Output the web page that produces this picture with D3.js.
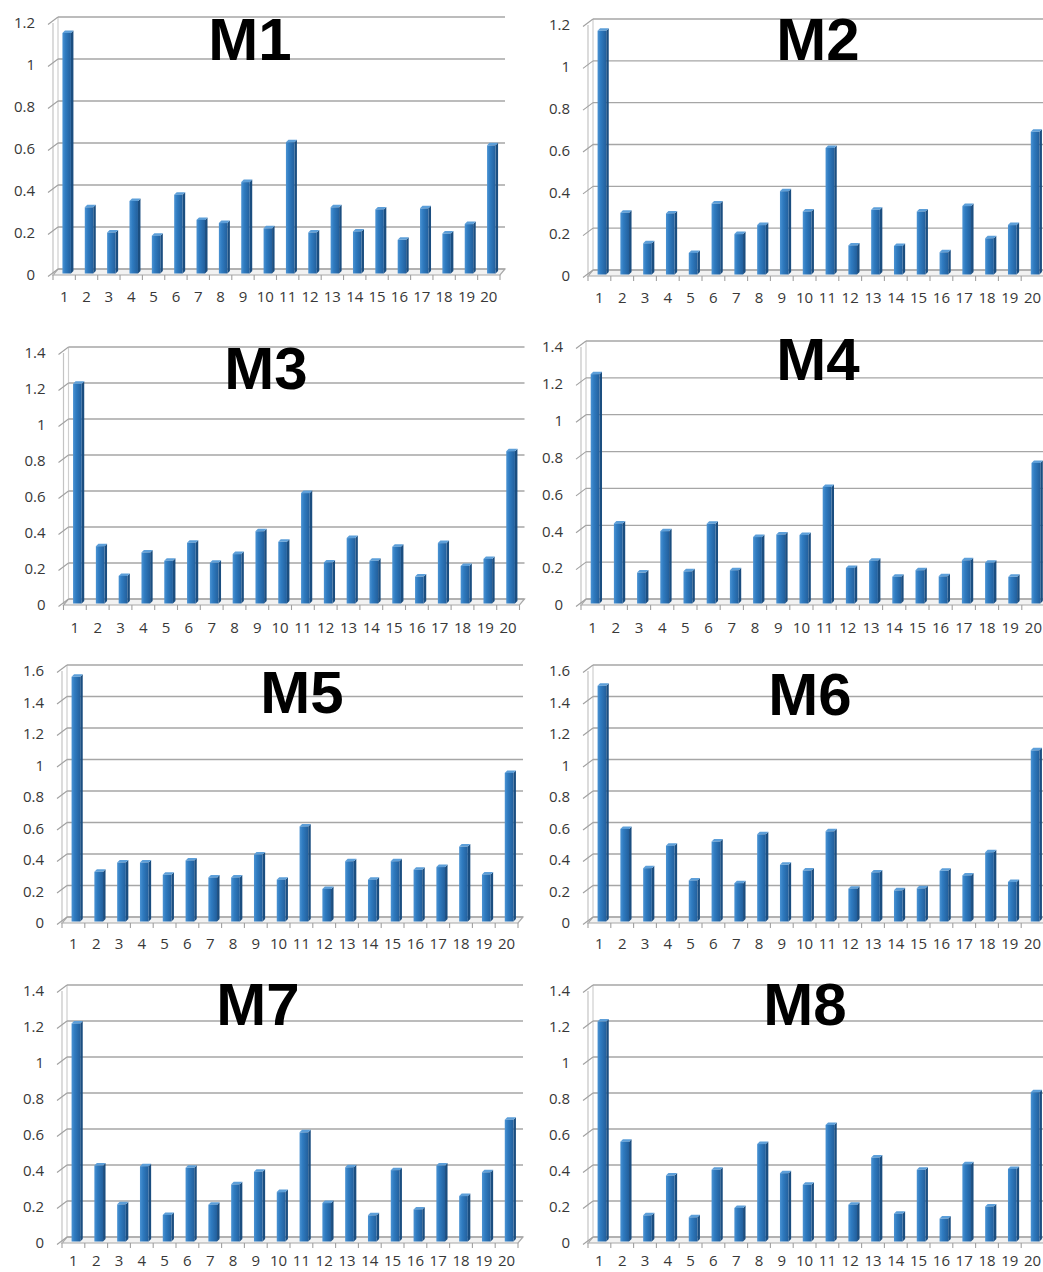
<!DOCTYPE html>
<html>
<head>
<meta charset="utf-8">
<script src="https://cdn.jsdelivr.net/npm/d3@7"></script>
<style>
  html, body { margin: 0; padding: 0; background: #fff; overflow: hidden; }
  svg { display: block; }
</style>
</head>
<body>
<svg id="chart" width="1043" height="1272"></svg>
<script>
// Categories shared by every panel
const categories = ["1","2","3","4","5","6","7","8","9","10",
                    "11","12","13","14","15","16","17","18","19","20"];

// Panel titles
const titles = ["M1","M2","M3","M4","M5","M6","M7","M8"];

// Values per panel
const m1Values = [1.15,0.32,0.20,0.35,0.185,0.38,0.26,0.245,0.44,0.22,0.63,0.20,0.32,0.205,0.31,0.165,0.315,0.195,0.24,0.615];
const m2Values = [1.17,0.30,0.154,0.297,0.108,0.344,0.198,0.241,0.403,0.306,0.61,0.144,0.314,0.141,0.306,0.111,0.332,0.178,0.241,0.687];
const m3Values = [1.226,0.324,0.159,0.289,0.243,0.343,0.232,0.28,0.407,0.348,0.619,0.234,0.369,0.243,0.321,0.155,0.341,0.214,0.253,0.852];
const m4Values = [1.25,0.44,0.173,0.398,0.18,0.438,0.186,0.366,0.38,0.377,0.638,0.198,0.238,0.151,0.186,0.153,0.24,0.227,0.15,0.768];
const m5Values = [1.56,0.322,0.381,0.381,0.303,0.394,0.286,0.286,0.432,0.272,0.61,0.213,0.389,0.272,0.389,0.335,0.352,0.482,0.305,0.95];
const m6Values = [1.503,0.594,0.345,0.488,0.267,0.514,0.25,0.56,0.366,0.33,0.579,0.215,0.318,0.204,0.217,0.328,0.299,0.446,0.257,1.093];
const m7Values = [1.217,0.428,0.212,0.424,0.153,0.415,0.21,0.323,0.393,0.28,0.612,0.219,0.418,0.151,0.402,0.184,0.428,0.258,0.39,0.682];
const m8Values = [1.228,0.56,0.151,0.372,0.14,0.404,0.192,0.547,0.385,0.321,0.653,0.21,0.472,0.16,0.404,0.133,0.435,0.2,0.409,0.835];

// Value-axis tick labels
const ticks12 = [0,0.2,0.4,0.6,0.8,1,1.2];
const ticks14 = [0,0.2,0.4,0.6,0.8,1,1.2,1.4];
const ticks16 = [0,0.2,0.4,0.6,0.8,1,1.2,1.4,1.6];

// Panel placement (front-left corner of the floor, band width, zero line, top tick line,
// gap to the category labels, title spot)
const layout = [
  { values: m1Values, ticks: ticks12, left: 53,  band: 22.35, base: 275,  top: 23,  pad: 16, tx: 250, ty: 60 },
  { values: m2Values, ticks: ticks12, left: 588, band: 22.8,  base: 276,  top: 25,  pad: 16, tx: 818, ty: 60 },
  { values: m3Values, ticks: ticks14, left: 63.5,band: 22.8,  base: 605,  top: 353, pad: 17, tx: 266, ty: 389 },
  { values: m4Values, ticks: ticks14, left: 581, band: 23.2,  base: 605,  top: 347, pad: 17, tx: 818, ty: 380 },
  { values: m5Values, ticks: ticks16, left: 62,  band: 22.8,  base: 923,  top: 671, pad: 15, tx: 302, ty: 713 },
  { values: m6Values, ticks: ticks16, left: 588, band: 22.8,  base: 923,  top: 671, pad: 15, tx: 810, ty: 715 },
  { values: m7Values, ticks: ticks14, left: 62,  band: 22.8,  base: 1243, top: 991, pad: 12, tx: 258, ty: 1025 },
  { values: m8Values, ticks: ticks14, left: 588, band: 22.8,  base: 1243, top: 991, pad: 12, tx: 805, ty: 1025 }
];

// Depth offset of the back wall, and of each column
const DX = 5, DY = -6;
const BAR_D = 2.5;

const svg = d3.select("#chart");
svg.append("rect").attr("width", 1043).attr("height", 1272).attr("fill", "#fff");

const defs = svg.append("defs");
const grad = defs.append("linearGradient").attr("id", "barFace")
  .attr("x1", "0%").attr("x2", "100%").attr("y1", "0%").attr("y2", "0%");
grad.append("stop").attr("offset", "0%").attr("stop-color", "#4b93d3");
grad.append("stop").attr("offset", "35%").attr("stop-color", "#2f7bc0");
grad.append("stop").attr("offset", "100%").attr("stop-color", "#225f9c");

const AXIS_FONT = "'Open Sans', 'DejaVu Sans', sans-serif";

layout.forEach((p, i) => {
  const g = svg.append("g");
  const x = d3.scaleBand().domain(categories)
    .range([p.left, p.left + categories.length * p.band]).padding(0);
  const yMax = p.ticks[p.ticks.length - 1];
  const y = d3.scaleLinear().domain([0, yMax]).range([p.base, p.top]);
  const right = x.range()[1];

  // floor
  g.append("path")
    .attr("d", `M${p.left},${p.base} L${right},${p.base} L${right + DX},${p.base + DY} L${p.left + DX},${p.base + DY} Z`)
    .attr("fill", "#f2f2f2").attr("stroke", "#a8a8a8").attr("stroke-width", 1.2);

  // left wall edges
  g.append("line").attr("x1", p.left).attr("x2", p.left)
    .attr("y1", p.base).attr("y2", y(yMax))
    .attr("stroke", "#c4c4c4").attr("stroke-width", 1.2);
  g.append("line").attr("x1", p.left + DX).attr("x2", p.left + DX)
    .attr("y1", p.base + DY).attr("y2", y(yMax) + DY)
    .attr("stroke", "#cfcfcf").attr("stroke-width", 1.2);

  // back-wall gridlines
  g.selectAll(".grid").data(p.ticks).join("line")
    .attr("x1", p.left + DX).attr("x2", right + DX)
    .attr("y1", d => y(d) + DY).attr("y2", d => y(d) + DY)
    .attr("stroke", "#a6a6a6").attr("stroke-width", 1.3);

  // slanted value ticks across the left wall
  g.selectAll(".vtick").data(p.ticks).join("line")
    .attr("x1", p.left - 5).attr("y1", d => y(d) + 1.5)
    .attr("x2", p.left + DX).attr("y2", d => y(d) + DY)
    .attr("stroke", "#a0a0a0").attr("stroke-width", 1.1);

  // category ticks under the floor
  g.selectAll(".ctick").data(d3.range(categories.length + 1)).join("line")
    .attr("x1", k => p.left + k * p.band).attr("x2", k => p.left + k * p.band)
    .attr("y1", p.base).attr("y2", p.base + 5)
    .attr("stroke", "#a0a0a0").attr("stroke-width", 1.1);

  // columns
  const fw = p.band * 0.38;
  const bars = g.selectAll(".bar").data(p.values).join("g");
  const fx = (d, k) => x(categories[k]) + p.band / 2 - fw / 2 + 2.5;
  const bottom = p.base - 1.5;
  bars.append("path") // side face
    .attr("d", (d, k) => {
      const x0 = fx(d, k) + fw, t = y(d) - 0.5;
      return `M${x0},${t} L${x0 + BAR_D},${t - BAR_D} L${x0 + BAR_D},${bottom - BAR_D} L${x0},${bottom} Z`;
    })
    .attr("fill", "#1b4e80");
  bars.append("path") // top cap
    .attr("d", (d, k) => {
      const x0 = fx(d, k), t = y(d) - 0.5;
      return `M${x0},${t} L${x0 + BAR_D},${t - BAR_D} L${x0 + fw + BAR_D},${t - BAR_D} L${x0 + fw},${t} Z`;
    })
    .attr("fill", "#5d9fd9");
  bars.append("rect") // front face
    .attr("x", (d, k) => fx(d, k))
    .attr("y", d => y(d) - 0.5)
    .attr("width", fw)
    .attr("height", d => bottom - (y(d) - 0.5))
    .attr("fill", "url(#barFace)");

  // value axis labels
  const yAxis = d3.axisLeft(y).tickValues(p.ticks).tickSize(0).tickPadding(18)
    .tickFormat(d3.format("~g"));
  const ya = g.append("g").attr("transform", `translate(${p.left},0)`).call(yAxis);
  ya.select(".domain").remove();
  ya.selectAll("text").attr("font-family", AXIS_FONT).attr("font-size", 15).attr("fill", "#383838");

  // category axis labels
  const xAxis = d3.axisBottom(x).tickSize(0).tickPadding(p.pad);
  const xa = g.append("g").attr("transform", `translate(0,${p.base})`).call(xAxis);
  xa.select(".domain").remove();
  xa.selectAll("text").attr("font-family", AXIS_FONT).attr("font-size", 15).attr("fill", "#383838");

  // title
  g.append("text")
    .attr("x", p.tx).attr("y", p.ty)
    .attr("text-anchor", "middle")
    .attr("font-family", "'Liberation Sans', Arial, sans-serif")
    .attr("font-weight", "bold")
    .attr("font-size", 60)
    .attr("fill", "#000")
    .text(titles[i]);
});
</script>
</body>
</html>
